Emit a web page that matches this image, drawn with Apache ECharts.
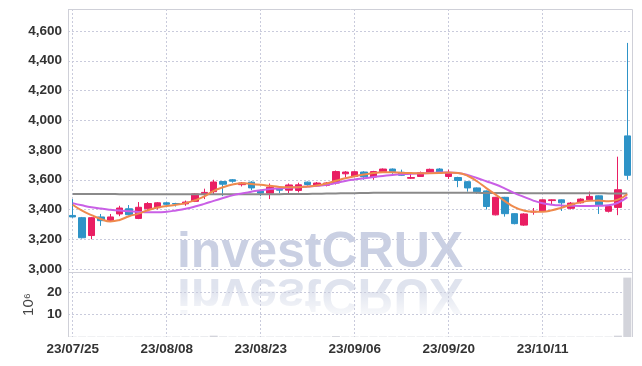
<!DOCTYPE html>
<html>
<head>
<meta charset="utf-8">
<script src="https://cdn.jsdelivr.net/npm/echarts@6/dist/echarts.min.js"></script>
<style>
  html, body { margin: 0; padding: 0; background: #fff; }
  #chart { width: 642px; height: 366px; }
</style>
</head>
<body>
<div id="chart"></div>
<script>
// trading days shown on the x axis
const dates = [
  '23/07/25', '23/07/26', '23/07/27', '23/07/28', '23/07/31', '23/08/01', '23/08/02', '23/08/03', '23/08/04', '23/08/07',
  '23/08/08', '23/08/09', '23/08/10', '23/08/11', '23/08/14', '23/08/16', '23/08/17', '23/08/18', '23/08/21', '23/08/22',
  '23/08/23', '23/08/24', '23/08/25', '23/08/28', '23/08/29', '23/08/30', '23/08/31', '23/09/01', '23/09/04', '23/09/05',
  '23/09/06', '23/09/07', '23/09/08', '23/09/11', '23/09/12', '23/09/13', '23/09/14', '23/09/15', '23/09/18', '23/09/19',
  '23/09/20', '23/09/21', '23/09/22', '23/09/25', '23/09/26', '23/09/27', '23/10/04', '23/10/05', '23/10/06', '23/10/10',
  '23/10/11', '23/10/12', '23/10/13', '23/10/16', '23/10/17', '23/10/18', '23/10/19', '23/10/20', '23/10/23', '23/10/24'
];

// [open, close, low, high]
const candles = [
  [3360, 3350, 3345, 3470], [3345, 3210, 3205, 3350], [3225, 3345, 3200, 3350], [3350, 3325, 3290, 3370], [3325, 3350, 3320, 3370],
  [3370, 3410, 3355, 3425], [3405, 3365, 3360, 3430], [3340, 3415, 3335, 3450], [3405, 3440, 3390, 3450], [3412, 3445, 3400, 3450],
  [3445, 3435, 3415, 3450], [3440, 3437, 3420, 3445], [3438, 3450, 3425, 3460], [3455, 3505, 3450, 3510], [3505, 3515, 3470, 3540],
  [3520, 3585, 3500, 3600], [3588, 3570, 3490, 3590], [3600, 3590, 3580, 3605], [3567, 3578, 3555, 3585], [3584, 3545, 3530, 3590],
  [3525, 3510, 3490, 3530], [3510, 3550, 3470, 3575], [3535, 3530, 3510, 3545], [3530, 3565, 3510, 3575], [3528, 3566, 3515, 3580],
  [3584, 3568, 3560, 3588], [3560, 3578, 3555, 3585], [3563, 3578, 3555, 3585], [3578, 3655, 3568, 3662], [3640, 3652, 3615, 3658],
  [3622, 3654, 3618, 3660], [3652, 3620, 3600, 3657], [3618, 3655, 3600, 3660], [3655, 3672, 3650, 3676], [3672, 3655, 3640, 3676],
  [3650, 3630, 3625, 3668], [3610, 3615, 3605, 3650], [3622, 3648, 3620, 3655], [3645, 3670, 3640, 3675], [3672, 3650, 3640, 3678],
  [3622, 3648, 3605, 3668], [3615, 3595, 3550, 3620], [3587, 3545, 3520, 3590], [3545, 3520, 3505, 3548], [3525, 3420, 3400, 3528],
  [3364, 3482, 3360, 3485], [3482, 3372, 3352, 3485], [3372, 3305, 3300, 3375], [3295, 3370, 3290, 3375], [3383, 3388, 3365, 3410],
  [3388, 3465, 3385, 3468], [3460, 3465, 3435, 3468], [3465, 3445, 3390, 3468], [3408, 3443, 3400, 3450], [3445, 3470, 3440, 3475],
  [3465, 3488, 3460, 3520], [3492, 3432, 3370, 3495], [3388, 3420, 3380, 3425], [3414, 3533, 3362, 3755], [3895, 3630, 3600, 4520]
];

// moving averages
const ma5 = [
  3432, 3392, 3362, 3336, 3320, 3330, 3355, 3372, 3395, 3413,
  3423, 3432, 3443, 3462, 3488, 3525, 3550, 3568, 3577, 3572,
  3566, 3559, 3552, 3550, 3550, 3555, 3562, 3575, 3593, 3610,
  3624, 3635, 3645, 3650, 3651, 3647, 3645, 3644, 3644, 3645,
  3648, 3645, 3627, 3590, 3544, 3500, 3455, 3416, 3393, 3385,
  3385, 3395, 3412, 3432, 3448, 3458, 3460, 3455, 3466, 3502
];
const ma20 = [
  3443, 3428, 3415, 3406, 3399, 3393, 3388, 3384, 3381, 3381,
  3385, 3394, 3405, 3420, 3438, 3458, 3477, 3495, 3508, 3520,
  3530, 3537, 3542, 3546, 3550, 3555, 3560, 3566, 3578, 3592,
  3602, 3610, 3618, 3626, 3632, 3637, 3641, 3643, 3646, 3648,
  3649, 3645, 3632, 3612, 3590, 3568, 3540, 3510, 3485, 3460,
  3442, 3432, 3427, 3425, 3424, 3424, 3425, 3428, 3445, 3483
];
const maLong = [
  3505, 3505, 3504, 3504, 3504, 3503, 3503, 3503, 3503, 3503,
  3503, 3503, 3503, 3503, 3503, 3503, 3503, 3503, 3503, 3503,
  3503, 3503, 3503, 3504, 3504, 3505, 3506, 3507, 3508, 3509,
  3510, 3511, 3512, 3512, 3513, 3513, 3513, 3513, 3513, 3513,
  3512, 3512, 3512, 3512, 3511, 3511, 3511, 3511, 3510, 3510,
  3510, 3510, 3509, 3509, 3509, 3509, 3509, 3508, 3508, 3508
];

// volume, in millions
const volumes = [
  0.15, 0.15, 0.15, 0.15, 0.15, 0.15, 0.15, 0.15, 0.15, 0.15,
  0.15, 0.15, 0.15, 0.15, 0.2, 0.6, 0.2, 0.15, 0.15, 0.15,
  0.15, 0.15, 0.15, 0.15, 0.15, 0.15, 0.15, 0.15, 0.4, 0.15,
  0.15, 0.15, 0.15, 0.15, 0.15, 0.15, 0.15, 0.15, 0.15, 0.15,
  0.15, 0.15, 0.15, 0.15, 0.15, 0.15, 0.15, 0.15, 0.15, 0.15,
  0.15, 0.15, 0.15, 0.15, 0.15, 0.15, 0.15, 0.15, 0.6, 26.5
];

const FONT = "'Liberation Sans', Arial, sans-serif";
const GRID_C = '#c9cbdc';
const FRAME_C = '#cfd0d8';
const UP = '#e91e63';
const DOWN = '#2e93c7';

const chart = echarts.init(document.getElementById('chart'));

const dotted = { show: true, interval: 9, alignWithLabel: true, lineStyle: { color: GRID_C, type: [2, 2], width: 1 } };
const labelStyle = { color: '#333', fontFamily: FONT, fontSize: 13.5, fontWeight: 'bold' };

const option = {
  animation: false,
  backgroundColor: '#ffffff',
  grid: [
    { left: 68, right: 10, top: 9, height: 260 },
    { left: 68, right: 10, top: 272, height: 65 }
  ],
  xAxis: [
    {
      type: 'category', gridIndex: 0, data: dates, boundaryGap: true,
      axisLine: { show: false }, axisTick: { show: false }, axisLabel: { show: false },
      splitLine: dotted
    },
    {
      type: 'category', gridIndex: 1, data: dates, boundaryGap: true,
      axisLine: { show: false }, axisTick: { show: false },
      axisLabel: Object.assign({ interval: 9, margin: 5 }, labelStyle),
      splitLine: dotted
    }
  ],
  yAxis: [
    {
      type: 'value', gridIndex: 0, min: 3000, max: 4748, interval: 200,
      axisLine: { show: false }, axisTick: { show: false },
      axisLabel: Object.assign({ margin: 6, showMaxLabel: false }, labelStyle),
      splitLine: { lineStyle: { color: GRID_C, type: [2, 2] } }
    },
    {
      type: 'value', gridIndex: 1, min: 0, max: 29, interval: 10,
      name: '10⁶', nameLocation: 'middle', nameGap: 24, nameRotate: 90,
      nameTextStyle: { color: '#444', fontFamily: FONT, fontSize: 15 },
      axisLine: { show: false }, axisTick: { show: false },
      axisLabel: Object.assign({ margin: 6, showMinLabel: false, showMaxLabel: false }, labelStyle),
      splitLine: { lineStyle: { color: ['transparent', GRID_C, GRID_C, 'transparent'], type: [2, 2] } }
    }
  ],
  graphic: [
    {
      type: 'text', x: 320, y: 253, z: -10, silent: true,
      style: {
        text: 'investCRUX', fill: '#cad0e3',
        font: 'bold 50px ' + FONT, textAlign: 'center', textVerticalAlign: 'middle'
      }
    },
    {
      type: 'text', x: 320, y: 293, scaleY: -1, z: -10, silent: true,
      style: {
        text: 'investCRUX', fill: '#dfe3ee',
        font: 'bold 50px ' + FONT, textAlign: 'center', textVerticalAlign: 'middle'
      }
    },
    {
      // fade the reflection towards the bottom
      type: 'rect', z: -5, silent: true,
      shape: { x: 160, y: 288, width: 320, height: 30 },
      style: {
        fill: new echarts.graphic.LinearGradient(0, 0, 0, 1, [
          { offset: 0, color: 'rgba(255,255,255,0)' },
          { offset: 1, color: 'rgba(255,255,255,0.85)' }
        ])
      }
    },
    {
      type: 'polyline', z: 10, silent: true,
      shape: { points: [[68.5, 337], [68.5, 9.5], [632.5, 9.5], [632.5, 337]] },
      style: { stroke: FRAME_C, fill: null, lineWidth: 1 }
    },
    {
      type: 'line', z: 10, silent: true,
      shape: { x1: 68.5, y1: 272.5, x2: 632.5, y2: 272.5 },
      style: { stroke: FRAME_C, lineWidth: 1 }
    }
  ],
  series: [
    {
      type: 'candlestick', xAxisIndex: 0, yAxisIndex: 0, data: candles, barWidth: 7,
      itemStyle: { color: UP, color0: DOWN, borderColor: UP, borderColor0: DOWN, borderWidth: 1 }
    },
    {
      type: 'line', xAxisIndex: 0, yAxisIndex: 0, data: maLong, showSymbol: false, smooth: true,
      lineStyle: { color: '#8a8a8a', width: 2 }
    },
    {
      type: 'line', xAxisIndex: 0, yAxisIndex: 0, data: ma20, showSymbol: false, smooth: true,
      lineStyle: { color: '#c95fe6', width: 2 }
    },
    {
      type: 'line', xAxisIndex: 0, yAxisIndex: 0, data: ma5, showSymbol: false, smooth: true,
      lineStyle: { color: '#ef8a4d', width: 2 }
    },
    {
      type: 'bar', xAxisIndex: 1, yAxisIndex: 1, data: volumes, barWidth: 8,
      itemStyle: { color: '#d3d4db' }
    }
  ]
};

chart.setOption(option);
</script>
</body>
</html>
